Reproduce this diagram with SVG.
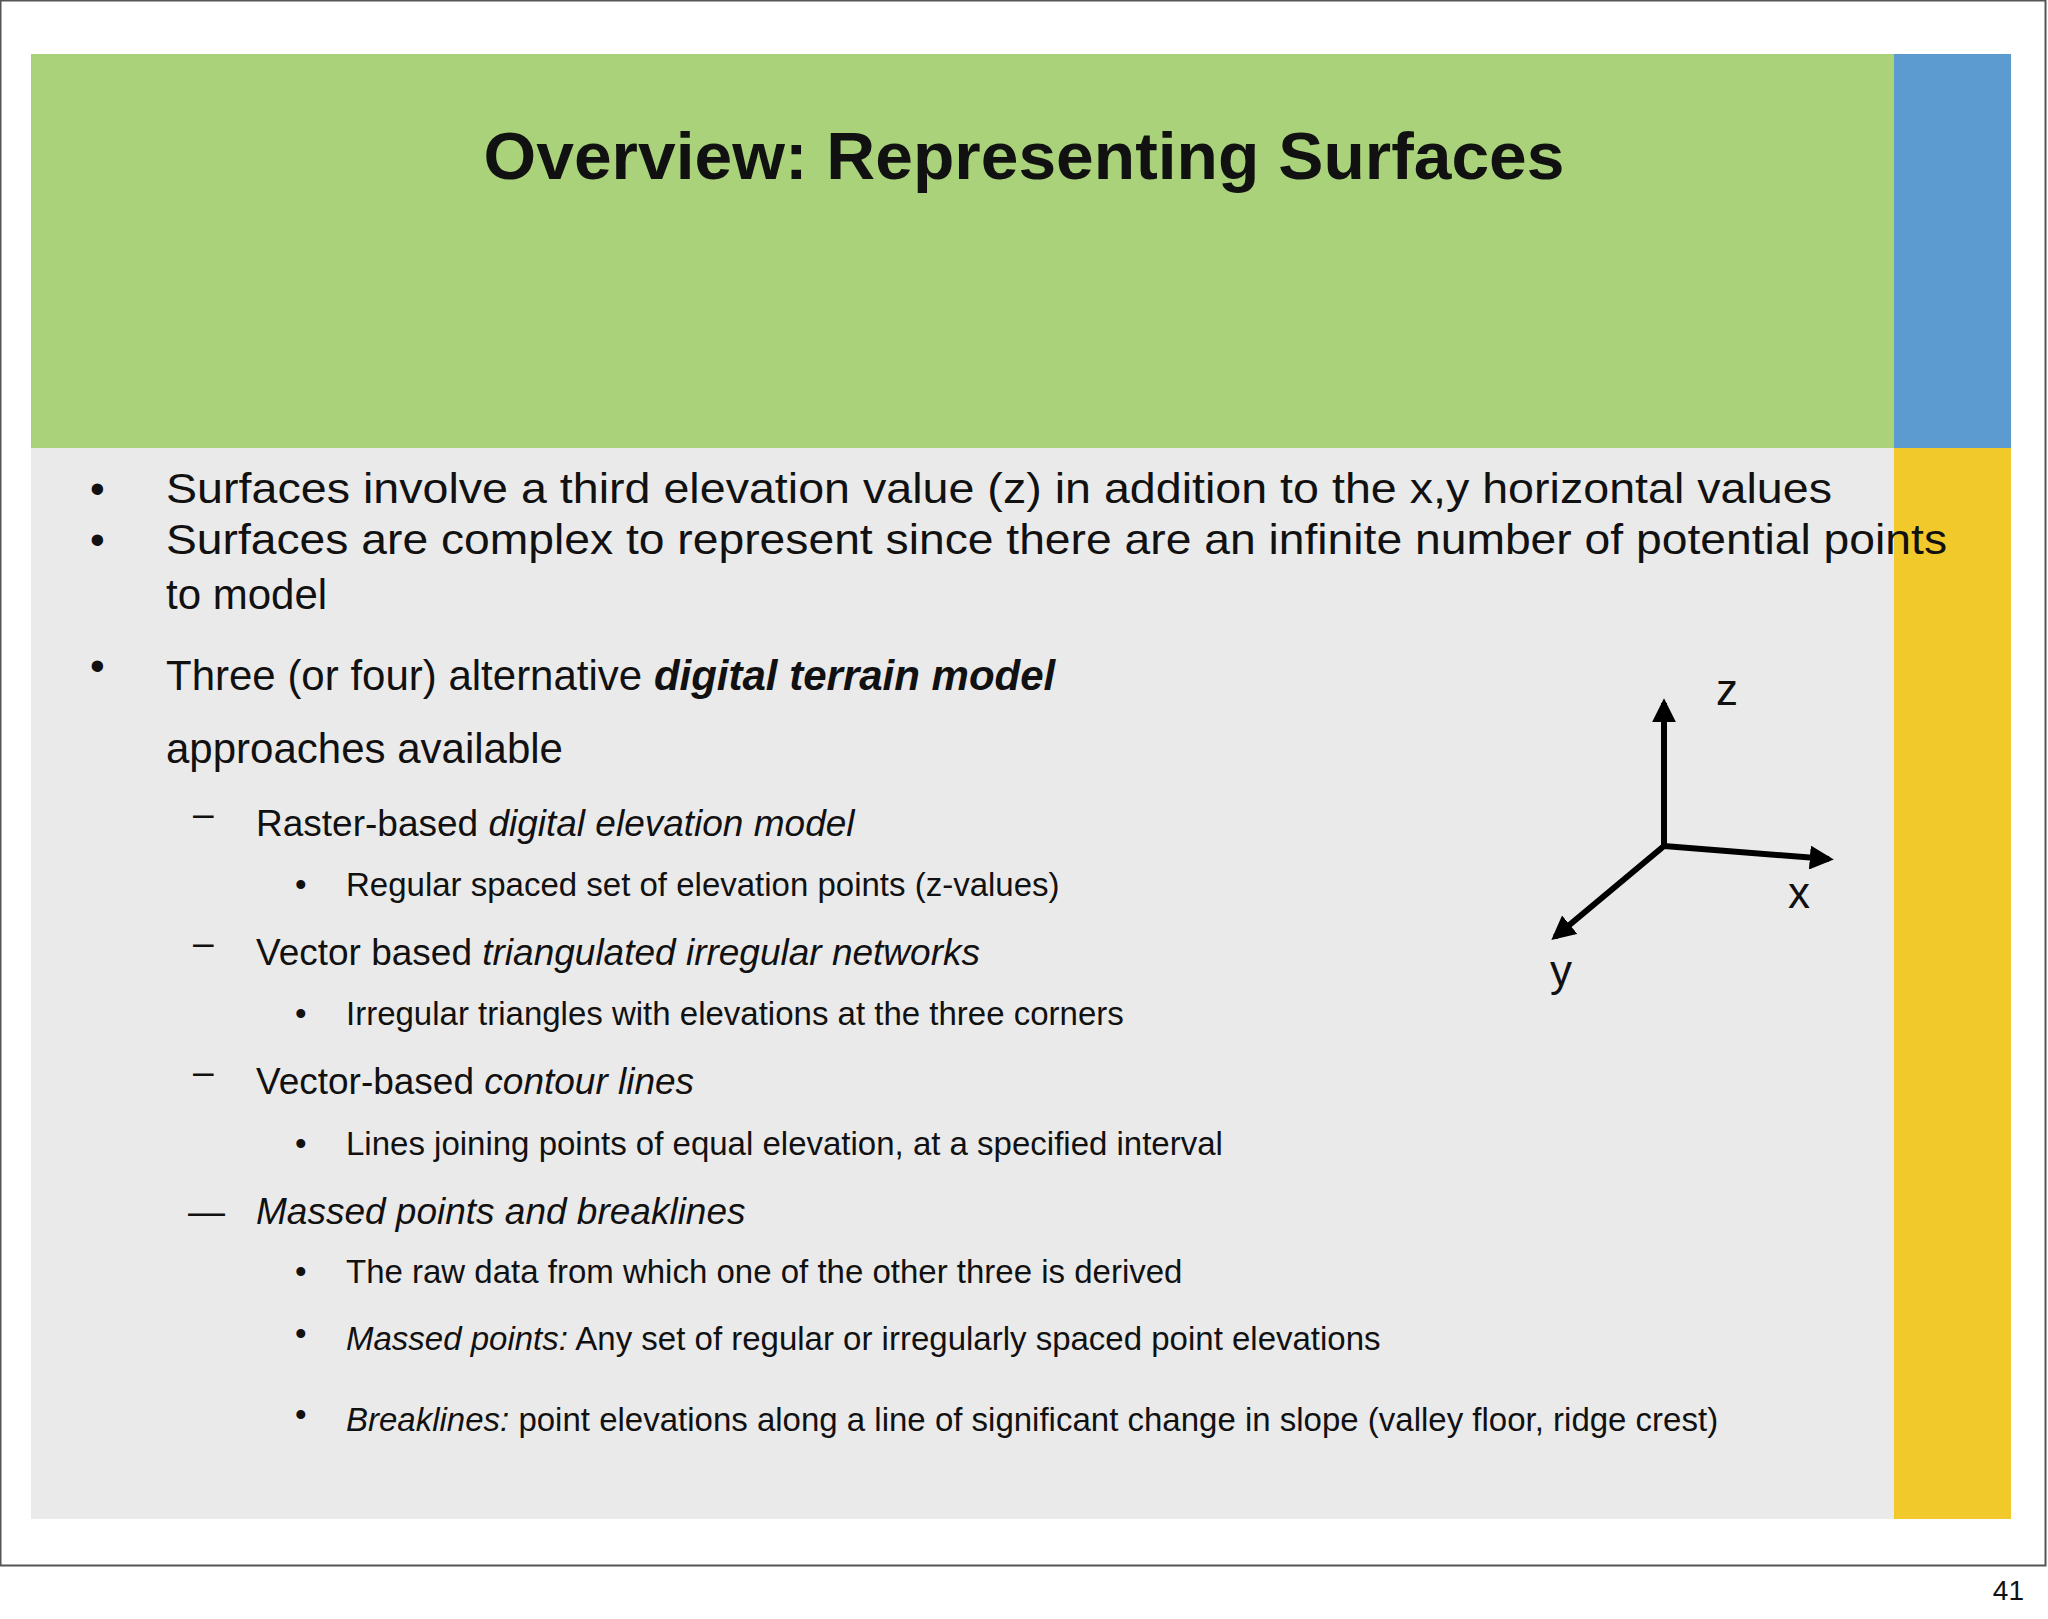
<svg xmlns="http://www.w3.org/2000/svg" width="2048" height="1619" viewBox="0 0 2048 1619">
<defs>
<style>
.t{font-family:"Liberation Sans",Arial,sans-serif;fill:#111}
.l1{font-size:42px}
.l2{font-size:37px}
.l3{font-size:33px}
.i{font-style:italic}
</style>
<marker id="ah" viewBox="0 0 10 10" refX="8" refY="5" markerWidth="4" markerHeight="4" orient="auto"><path d="M0,0L10,5L0,10z" fill="#000"/></marker>
</defs>
<rect width="2048" height="1619" fill="#fff"/>
<rect x="0.5" y="0.5" width="2045" height="1565" fill="#fff" stroke="#555" stroke-width="2"/>
<rect x="31" y="54" width="1863" height="394" fill="#aad27a"/>
<rect x="1894" y="54" width="117" height="394" fill="#5b9bd0"/>
<rect x="31" y="448" width="1863" height="1071" fill="#eaeaea"/>
<rect x="1894" y="448" width="117" height="1071" fill="#f2c92a"/>
<text class="t" x="1024" y="179" text-anchor="middle" font-size="66" font-weight="bold" textLength="1081" lengthAdjust="spacingAndGlyphs">Overview: Representing Surfaces</text>
<g class="t l1">
<text x="90" y="503">•</text><text x="166" y="503" textLength="1666" lengthAdjust="spacingAndGlyphs">Surfaces involve  a third elevation value (z) in addition to the x,y horizontal values</text>
<text x="90" y="554">•</text><text x="166" y="554" textLength="1781" lengthAdjust="spacingAndGlyphs">Surfaces are complex to represent since there are an infinite number of potential points</text>
<text x="166" y="609">to model</text>
<text x="90" y="680">•</text><text x="166" y="690">Three (or four) alternative <tspan font-weight="bold" font-style="italic">digital terrain model</tspan></text>
<text x="166" y="763">approaches available</text>
</g>
<g class="t l2">
<text x="193" y="826">–</text><text x="256" y="836">Raster-based <tspan class="i">digital elevation model</tspan></text>
<text x="193" y="955">–</text><text x="256" y="965">Vector based <tspan class="i">triangulated irregular networks</tspan></text>
<text x="193" y="1084">–</text><text x="256" y="1094">Vector-based <tspan class="i">contour lines</tspan></text>
<text x="188" y="1224">—</text><text x="256" y="1224" class="i">Massed points and breaklines</text>
</g>
<g class="t l3">
<text x="295" y="896">•</text><text x="346" y="896">Regular spaced set of elevation points (z-values)</text>
<text x="295" y="1025">•</text><text x="346" y="1025">Irregular triangles with elevations at the three corners</text>
<text x="295" y="1155">•</text><text x="346" y="1155">Lines joining points of equal elevation, at a specified interval</text>
<text x="295" y="1283">•</text><text x="346" y="1283">The raw data from which one of the other three is derived</text>
<text x="295" y="1345">•</text><text x="346" y="1350"><tspan class="i">Massed points:</tspan> Any set of regular or irregularly spaced point elevations</text>
<text x="295" y="1426">•</text><text x="346" y="1431"><tspan class="i">Breaklines:</tspan> point elevations along a line of significant change in slope (valley floor, ridge crest)</text>
</g>
<g id="axes" stroke="#000" stroke-width="6" fill="none" marker-end="url(#ah)">
<line x1="1664" y1="846" x2="1664" y2="703"/>
<line x1="1664" y1="846" x2="1829" y2="859"/>
<line x1="1664" y1="846" x2="1555" y2="937"/>
</g>
<g class="t" font-size="44">
<text x="1716" y="705">z</text>
<text x="1788" y="908">x</text>
<text x="1550" y="986">y</text>
</g>
<text class="t" x="2024" y="1600" font-size="28" text-anchor="end">41</text>
</svg>
